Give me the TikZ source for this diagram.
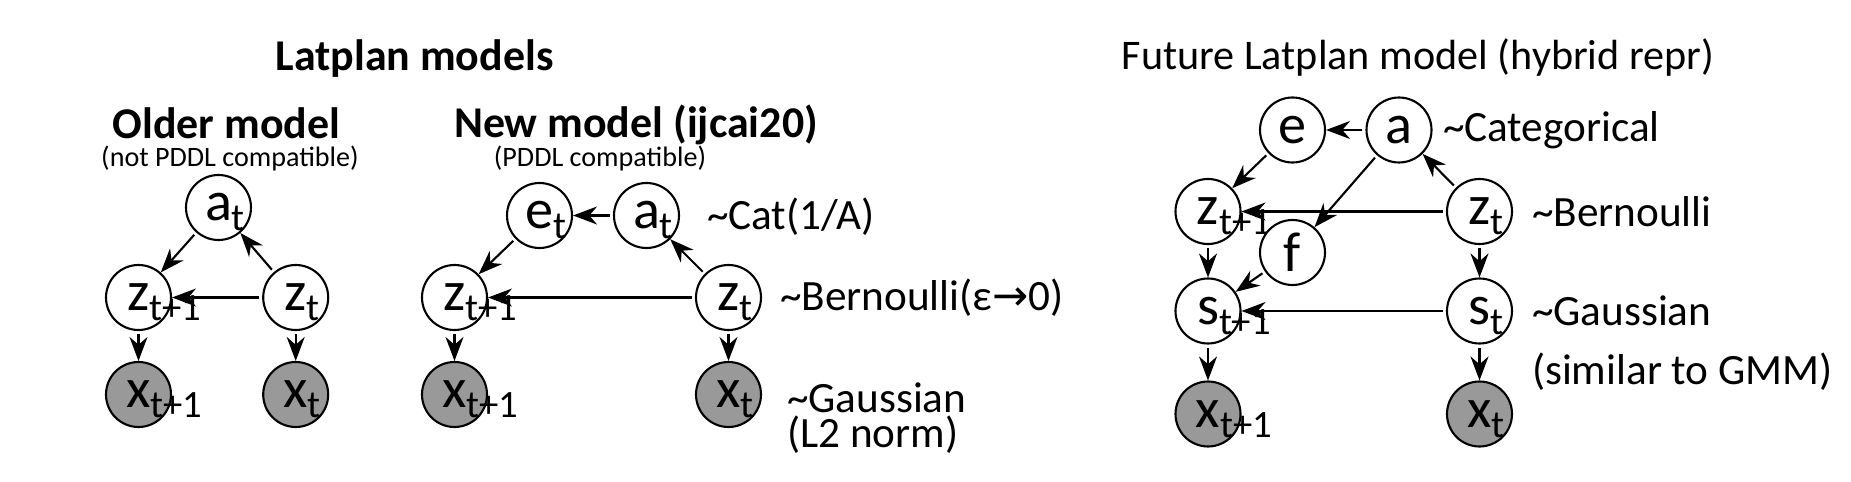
\documentclass[tikz,border=0pt]{standalone}
\usepackage{fontspec}
\setmainfont{Carlito}
\newfontfamily\arrowfont{DejaVu Sans}
\usetikzlibrary{arrows.meta}

\definecolor{obsgray}{RGB}{153,153,153}
% subscript that hangs out of the circle
\newcommand{\lowidx}[1]{\rlap{\raisebox{-1mm}[0pt][0pt]{\fontsize{11}{11}\selectfont #1}}}

\tikzset{
  var/.style={draw,circle,fill=white,minimum size=6.5mm,inner sep=0pt,
    font=\fontsize{16}{16}\selectfont},
  obs/.style={var,fill=obsgray},
  dep/.style={->,shorten <=0.3mm},
  note/.style={anchor=west,align=left,inner sep=0pt,font=\fontsize{12.3}{12.3}\selectfont},
  panelhead/.style={anchor=base,font=\fontsize{12.5}{12.5}\selectfont\bfseries},
  subhead/.style={anchor=base,font=\fontsize{8}{8}\selectfont},
}

\begin{document}
\begin{tikzpicture}[x=0.1mm,y=-0.1mm,line width=0.6pt,>={Stealth[length=2.4mm,width=1.8mm]}]
\useasboundingbox (0,0) rectangle (1851,482);

\node[panelhead] (title) at (414.5,71) {Latplan models};

% Older model.
\node[panelhead] (oldhead) at (226.5,139) {Older model};
\node[subhead] (oldsub) at (230,167) {(not PDDL compatible)};
\node[var] (oa) at (218.5,207.5) {a\lowidx{t}};
\node[var] (oz1) at (138.5,297.5) {z\lowidx{t+1}};
\node[var] (oz) at (295.7,297.5) {z\lowidx{t}};
\node[obs] (ox1) at (138.5,394.5) {x\lowidx{t+1}};
\node[obs] (ox) at (295.7,394.5) {x\lowidx{t}};
\draw[dep] (oa) -- (oz1);
\draw[dep] (oz) -- (oa);
\draw[dep] (oz) -- (oz1);

% New model (ijcai20).
\node[panelhead] (newhead) at (636,138) {New model (ijcai20)};
\node[subhead] (newsub) at (600,167) {(PDDL compatible)};
\node[var] (ne) at (539.5,215.5) {e\lowidx{t}};
\node[var] (na) at (646.5,215.5) {a\lowidx{t}};
\node[var] (nz1) at (454.5,297.5) {z\lowidx{t+1}};
\node[var] (nz) at (728.5,297.5) {z\lowidx{t}};
\node[obs] (nx1) at (454.5,394.5) {x\lowidx{t+1}};
\node[obs] (nx) at (728.5,394.5) {x\lowidx{t}};
\draw[dep] (na) -- (ne);
\draw[dep] (ne) -- (nz1);
\draw[dep] (nz) -- (na);
\draw[dep] (nz) -- (nz1);
\node[note] (catnote) at (706,217) {\textasciitilde Cat(1/A)};
\node[note] (bernnote) at (779,298) {\textasciitilde Bernoulli(ε{\arrowfont →}0)};
\node[note,font=\fontsize{12.3}{10}\selectfont] (gaussnote) at (786,418) {\textasciitilde Gaussian\\(L2 norm)};

% Observation arrows of both current models.
\foreach \m in {o,n}{
  \draw[dep] (\m z1) -- (\m x1);
  \draw[dep] (\m z) -- (\m x);
}

% Future model (hybrid repr).
\node[anchor=base,font=\fontsize{12}{12}\selectfont] (futhead) at (1418,70) {Future Latplan model (hybrid repr)};
\node[var] (fe) at (1292.5,130) {e};
\node[var] (fa) at (1399,130) {a};
\node[var] (fz1) at (1208,211.5) {z\lowidx{t+1}};
\node[var] (fz) at (1479.5,211.5) {z\lowidx{t}};
\node[var] (ff) at (1292.5,252.5) {f};
\node[var] (fs1) at (1208,311) {s\lowidx{t+1}};
\node[var] (fs) at (1479.5,311) {s\lowidx{t}};
\node[obs] (fx1) at (1208,414) {x\lowidx{t+1}};
\node[obs] (fx) at (1479.5,414) {x\lowidx{t}};
\draw[dep] (fa) -- (fe);
\draw[dep] (fe) -- (fz1);
\draw[dep] (fz) -- (fa);
\draw[dep] (fa) -- (ff);
\draw[dep] (fz) -- (fz1);
\draw[dep] (ff) -- (fs1);
\draw[dep] (fs) -- (fs1);
\foreach \a/\b in {fz1/fs1,fs1/fx1,fz/fs,fs/fx}
  \draw[dep] (\a) -- (\b);
\node[note] (fcatnote) at (1442,130) {\textasciitilde Categorical};
\node[note] (fbernnote) at (1531,212) {\textasciitilde Bernoulli};
\node[note,font=\fontsize{12.3}{14}\selectfont] (fgaussnote) at (1531,343.5) {\textasciitilde Gaussian\\[1mm] (similar to GMM)};
\end{tikzpicture}
\end{document}
